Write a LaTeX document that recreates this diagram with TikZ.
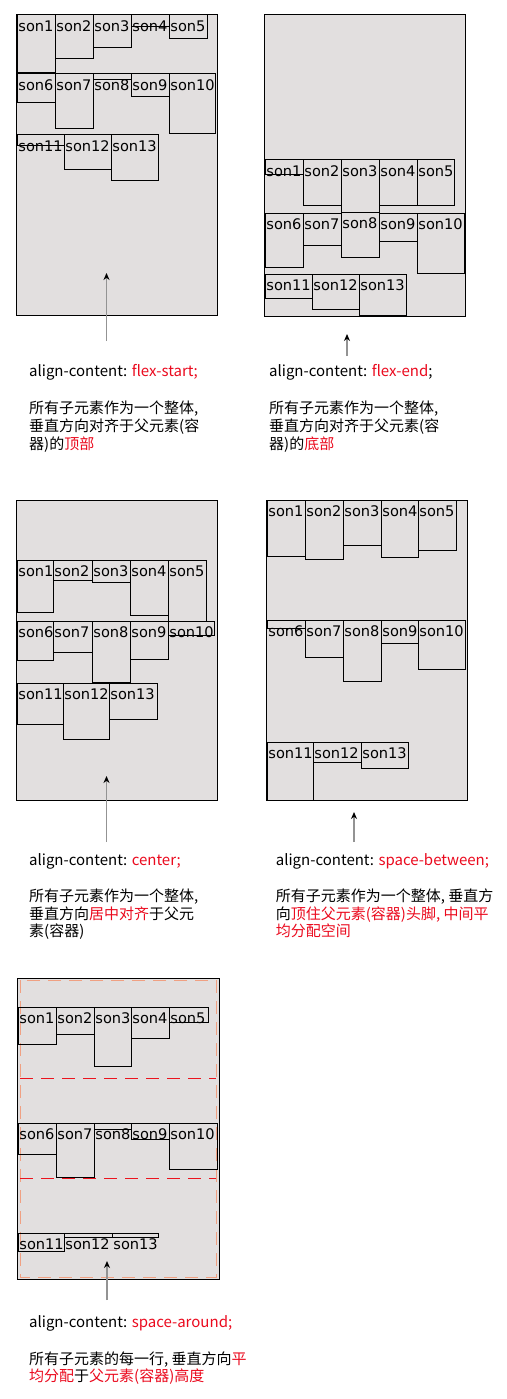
\documentclass[tikz,border=0pt]{standalone}
\usepackage{fontspec}
\setmainfont{Noto Sans CJK SC}
\newfontfamily\sonfont{DejaVu Sans}
\usetikzlibrary{arrows.meta}
\definecolor{cbg}{RGB}{226,223,223}
\definecolor{hl}{RGB}{235,10,30}
\definecolor{dor}{RGB}{240,160,130}
\definecolor{dred}{RGB}{235,20,30}
\newcommand\sonboxes[2]{%
  \foreach \n/\a/\b/\c/\d in {#2} {
    \draw[sbox] (\a,\b) rectangle (\c,\d);
    \node[slabel] (#1\n) at (\a+1.2,\b+16.7) {son\n};
  }}
\begin{document}
\begin{tikzpicture}[x=1pt,y=-1pt,
  cont/.style={draw=black, fill=cbg, line width=1pt},
  sbox/.style={draw=black, line width=1pt},
  slabel/.style={font=\fontsize{14.6}{16}\selectfont\sonfont, anchor=base west, inner sep=0pt},
  captxt/.style={font=\fontsize{15}{17}\selectfont, anchor=base west, inner sep=0pt},
  arr/.style={draw=gray!85, line width=1.5pt, -{Stealth[black,length=7pt,width=6pt]}}]
\fill[white] (0,0) rectangle (506,1399);
\useasboundingbox (0,0) rectangle (506,1399);

% ---------- panel 1: flex-start
\draw[cont] (16,15) rectangle (217,315);
\sonboxes{pa}{1/17/15/55/73, 2/55/15/93/59, 3/93/15/131/48, 4/131/15/169/27, 5/169/15/207/39,
  6/17/74/55/103, 7/55/74/93/129, 8/93/74/131/80, 9/131/74/169/97, 10/169/74/215/134,
  11/17/135/64/146, 12/64/135/111/170, 13/111/135/158/181}
\coordinate (a1s) at (106.5,341);
\coordinate (a1e) at (106.5,273);
\draw[arr] (a1s) -- (a1e);
\node[captxt] (c1a) at (29,376.7) {align-content: \textcolor{hl}{flex-start;}};
\node[captxt] (c1b) at (29,413.3) {所有子元素作为一个整体,};
\node[captxt] (c1c) at (29,431.7) {垂直方向对齐于父元素(容};
\node[captxt] (c1d) at (29,449) {器)的\textcolor{hl}{顶部}};

% ---------- panel 2: flex-end
\draw[cont] (264,15) rectangle (465,316);
\sonboxes{pb}{1/265/160/303/175, 2/303/160/341/205, 3/341/160/379/212, 4/379/160/417/205, 5/417/160/454/205,
  6/265/213/303/267, 7/303/213/341/245, 8/341/212/379/257, 9/379/213/417/241, 10/417/213/464/273,
  11/265/274/312/298, 12/312/274/359/309, 13/359/274/406/315}
\coordinate (a2s) at (347,356);
\coordinate (a2e) at (347,334);
\draw[arr] (a2s) -- (a2e);
\node[captxt] (c2a) at (269,376.7) {align-content: \textcolor{hl}{flex-end};};
\node[captxt] (c2b) at (269,413.3) {所有子元素作为一个整体,};
\node[captxt] (c2c) at (269,431.7) {垂直方向对齐于父元素(容};
\node[captxt] (c2d) at (269,449) {器)的\textcolor{hl}{底部}};

% ---------- panel 3: center
\draw[cont] (16,500) rectangle (217,800);
\sonboxes{pc}{1/17/560/53/612, 2/53/560/92/580, 3/92/560/130/582, 4/130/560/168/615, 5/168/560/206/621,
  6/17/621/53/660, 7/53/621/92/652, 8/92/621/130/682, 9/130/621/168/659, 10/168/621/214/635,
  11/17/683/63/724, 12/63/683/109/739, 13/109/683/157/719}
\coordinate (a3s) at (106.5,842);
\coordinate (a3e) at (106.5,776);
\draw[arr] (a3s) -- (a3e);
\node[captxt] (c3a) at (29,865) {align-content: \textcolor{hl}{center;}};
\node[captxt] (c3b) at (29,901.7) {所有子元素作为一个整体,};
\node[captxt] (c3c) at (29,919) {垂直方向\textcolor{hl}{居中对齐}于父元};
\node[captxt] (c3d) at (29,936.7) {素(容器)};

% ---------- panel 4: space-between
\draw[cont] (266,500) rectangle (467,800);
\sonboxes{pd}{1/267/500/305/556, 2/305/500/343/559, 3/343/500/381/545, 4/381/500/418/557, 5/418/500/456/550,
  6/267/620/305/628, 7/305/620/343/657, 8/343/620/381/681, 9/381/620/418/643, 10/418/620/465/669,
  11/267/742/313/800, 12/313/742/361/762, 13/361/742/408/768}
\coordinate (a4s) at (354,842);
\coordinate (a4e) at (354,812);
\draw[arr] (a4s) -- (a4e);
\node[captxt] (c4a) at (275.7,865) {align-content: \textcolor{hl}{space-between;}};
\node[captxt] (c4b) at (275.7,901.7) {所有子元素作为一个整体, 垂直方};
\node[captxt] (c4c) at (275.7,919) {向\textcolor{hl}{顶住父元素(容器)头脚, 中间平}};
\node[captxt] (c4d) at (275.7,936.7) {\textcolor{hl}{均分配空间}};

% ---------- panel 5: space-around
\draw[cont] (17,978) rectangle (219,1279);
\draw[dor, line width=1pt, dash pattern=on 13pt off 8pt] (20,980) rectangle (216,1277);
\draw[dred, line width=1pt, dash pattern=on 13pt off 8pt] (20,1078) -- (216,1078);
\draw[dred, line width=1pt, dash pattern=on 13pt off 8pt] (20,1178) -- (216,1178);
\sonboxes{pe}{1/18/1007/56/1044, 2/56/1007/94/1034, 3/94/1007/131/1066, 4/131/1007/169/1038, 5/169/1007/208/1022,
  6/18/1123/56/1154, 7/56/1123/94/1177, 8/94/1123/131/1129, 9/131/1123/169/1139, 10/169/1123/217/1169,
  11/18/1233/64/1251, 12/64/1233/112/1237, 13/112/1233/158/1237}
\coordinate (a5s) at (107,1300);
\coordinate (a5e) at (107,1261);
\draw[arr] (a5s) -- (a5e);
\node[captxt] (c5a) at (29,1327.3) {align-content: \textcolor{hl}{space-around;}};
\node[captxt] (c5b) at (29,1364) {所有子元素的每一行, 垂直方向\textcolor{hl}{平}};
\node[captxt] (c5c) at (29,1381.7) {\textcolor{hl}{均分配}于\textcolor{hl}{父元素(容器)高度}};
\end{tikzpicture}
\end{document}
